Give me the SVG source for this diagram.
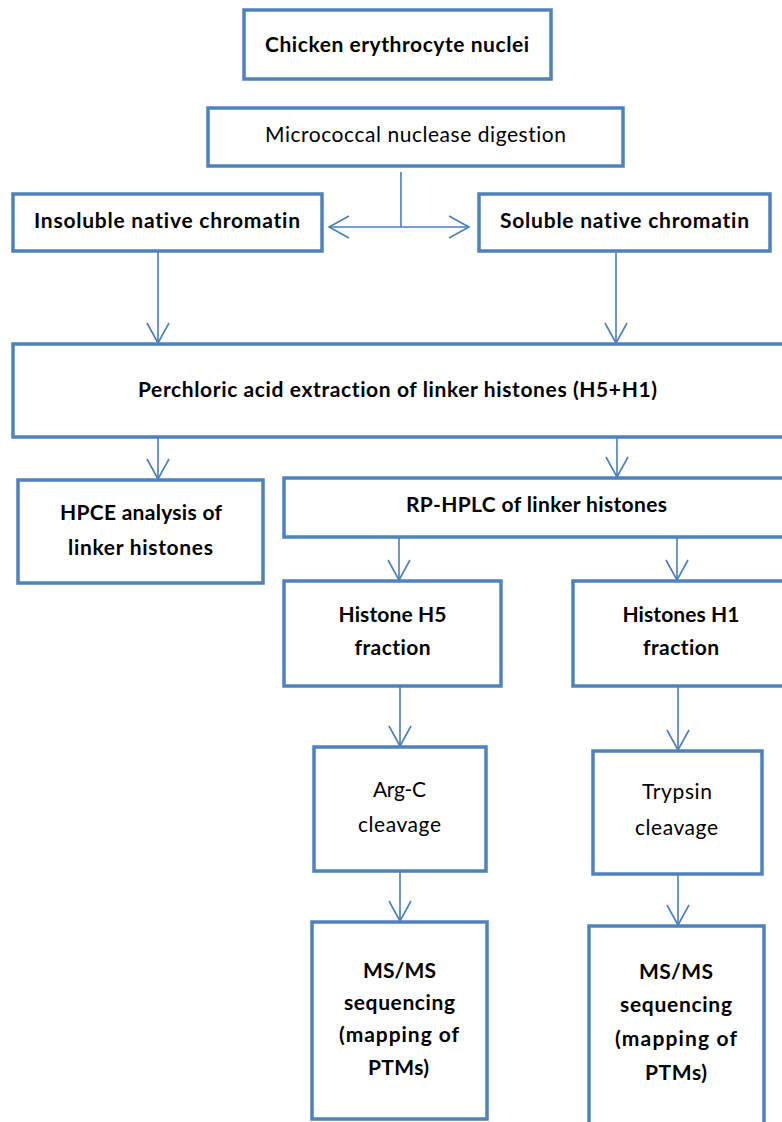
<svg xmlns="http://www.w3.org/2000/svg" width="782" height="1122" viewBox="0 0 782 1122">
<defs>
<style>
.box{fill:#fff;stroke:#4F81BD;stroke-width:3.5}
.c{fill:none;stroke:#4A7EBB;stroke-width:1.6}
text{font-family:Lato,"Open Sans","Liberation Sans",sans-serif;font-size:21px;fill:#000;text-anchor:middle;font-variant-ligatures:none}
.b{font-weight:bold}
</style>
<marker id="ah" markerUnits="userSpaceOnUse" markerWidth="30" markerHeight="30" viewBox="-25 -15 30 30" refX="0" refY="0" orient="auto-start-reverse">
<path d="M-20,-11 L0,0 L-20,11" fill="none" stroke="#4A7EBB" stroke-width="1.6"/>
</marker>
</defs>
<rect width="782" height="1122" fill="#fff"/>
<g id="connectors">
<line class="c" x1="401" y1="172" x2="401" y2="227"/>
<line class="c" x1="329" y1="227" x2="469" y2="227" marker-start="url(#ah)" marker-end="url(#ah)"/>
<line class="c" x1="158" y1="252" x2="158" y2="343" marker-end="url(#ah)"/>
<line class="c" x1="616" y1="252" x2="616" y2="343" marker-end="url(#ah)"/>
<line class="c" x1="158" y1="438" x2="158" y2="479" marker-end="url(#ah)"/>
<line class="c" x1="617" y1="438" x2="617" y2="477" marker-end="url(#ah)"/>
<line class="c" x1="399" y1="538" x2="399" y2="580" marker-end="url(#ah)"/>
<line class="c" x1="677" y1="538" x2="677" y2="580" marker-end="url(#ah)"/>
<line class="c" x1="400" y1="687" x2="400" y2="746" marker-end="url(#ah)"/>
<line class="c" x1="678" y1="687" x2="678" y2="750" marker-end="url(#ah)"/>
<line class="c" x1="400" y1="872" x2="400" y2="921" marker-end="url(#ah)"/>
<line class="c" x1="678" y1="875" x2="678" y2="925" marker-end="url(#ah)"/>
</g>
<g id="n1"><rect class="box" x="244" y="10" width="307" height="69"/><text class="b" x="397" y="52" textLength="264">Chicken erythrocyte nuclei</text></g>
<g id="n2"><rect class="box" x="208" y="108" width="415" height="58"/><text x="415.5" y="142" textLength="301">Micrococcal nuclease digestion</text></g>
<g id="n3"><rect class="box" x="13" y="194" width="309" height="57"/><text class="b" x="167" y="228" textLength="266">Insoluble native chromatin</text></g>
<g id="n4"><rect class="box" x="479" y="194" width="291" height="57"/><text class="b" x="624.5" y="228" textLength="249">Soluble native chromatin</text></g>
<g id="n5"><rect class="box" x="13" y="344" width="790" height="93"/><text class="b" x="397.5" y="397" textLength="519">Perchloric acid extraction of linker histones (H5+H1)</text></g>
<g id="n6"><rect class="box" x="18" y="480" width="245" height="103"/><text class="b" x="141" y="520" textLength="162">HPCE analysis of</text><text class="b" x="140.5" y="555" textLength="145">linker histones</text></g>
<g id="n7"><rect class="box" x="284" y="478" width="520" height="59"/><text class="b" x="536.5" y="512" textLength="261">RP-HPLC of linker histones</text></g>
<g id="n8"><rect class="box" x="284" y="581" width="217" height="105"/><text class="b" x="392.5" y="622" textLength="108">Histone H5</text><text class="b" x="392.5" y="655" textLength="76">fraction</text></g>
<g id="n9"><rect class="box" x="573" y="581" width="230" height="105"/><text class="b" x="681" y="622" textLength="117">Histones H1</text><text class="b" x="681" y="655" textLength="76">fraction</text></g>
<g id="n10"><rect class="box" x="314" y="747" width="172" height="124"/><text x="399.5" y="797" textLength="53">Arg-C</text><text x="399.5" y="832" textLength="83">cleavage</text></g>
<g id="n11"><rect class="box" x="593" y="751" width="169" height="123"/><text x="677" y="799" textLength="70">Trypsin</text><text x="676.5" y="835" textLength="83">cleavage</text></g>
<g id="n12"><rect class="box" x="312" y="922" width="175" height="197"/><text class="b" x="399.5" y="978" textLength="73">MS/MS</text><text class="b" x="399.5" y="1010" textLength="111">sequencing</text><text class="b" x="399" y="1042" textLength="120">(mapping of</text><text class="b" x="398.5" y="1075" textLength="61">PTMs)</text></g>
<g id="n13"><rect class="box" x="589" y="926" width="175" height="220"/><text class="b" x="676" y="979" textLength="74">MS/MS</text><text class="b" x="676" y="1012" textLength="112">sequencing</text><text class="b" x="676" y="1046" textLength="122">(mapping of</text><text class="b" x="676" y="1080" textLength="62">PTMs)</text></g>
</svg>
